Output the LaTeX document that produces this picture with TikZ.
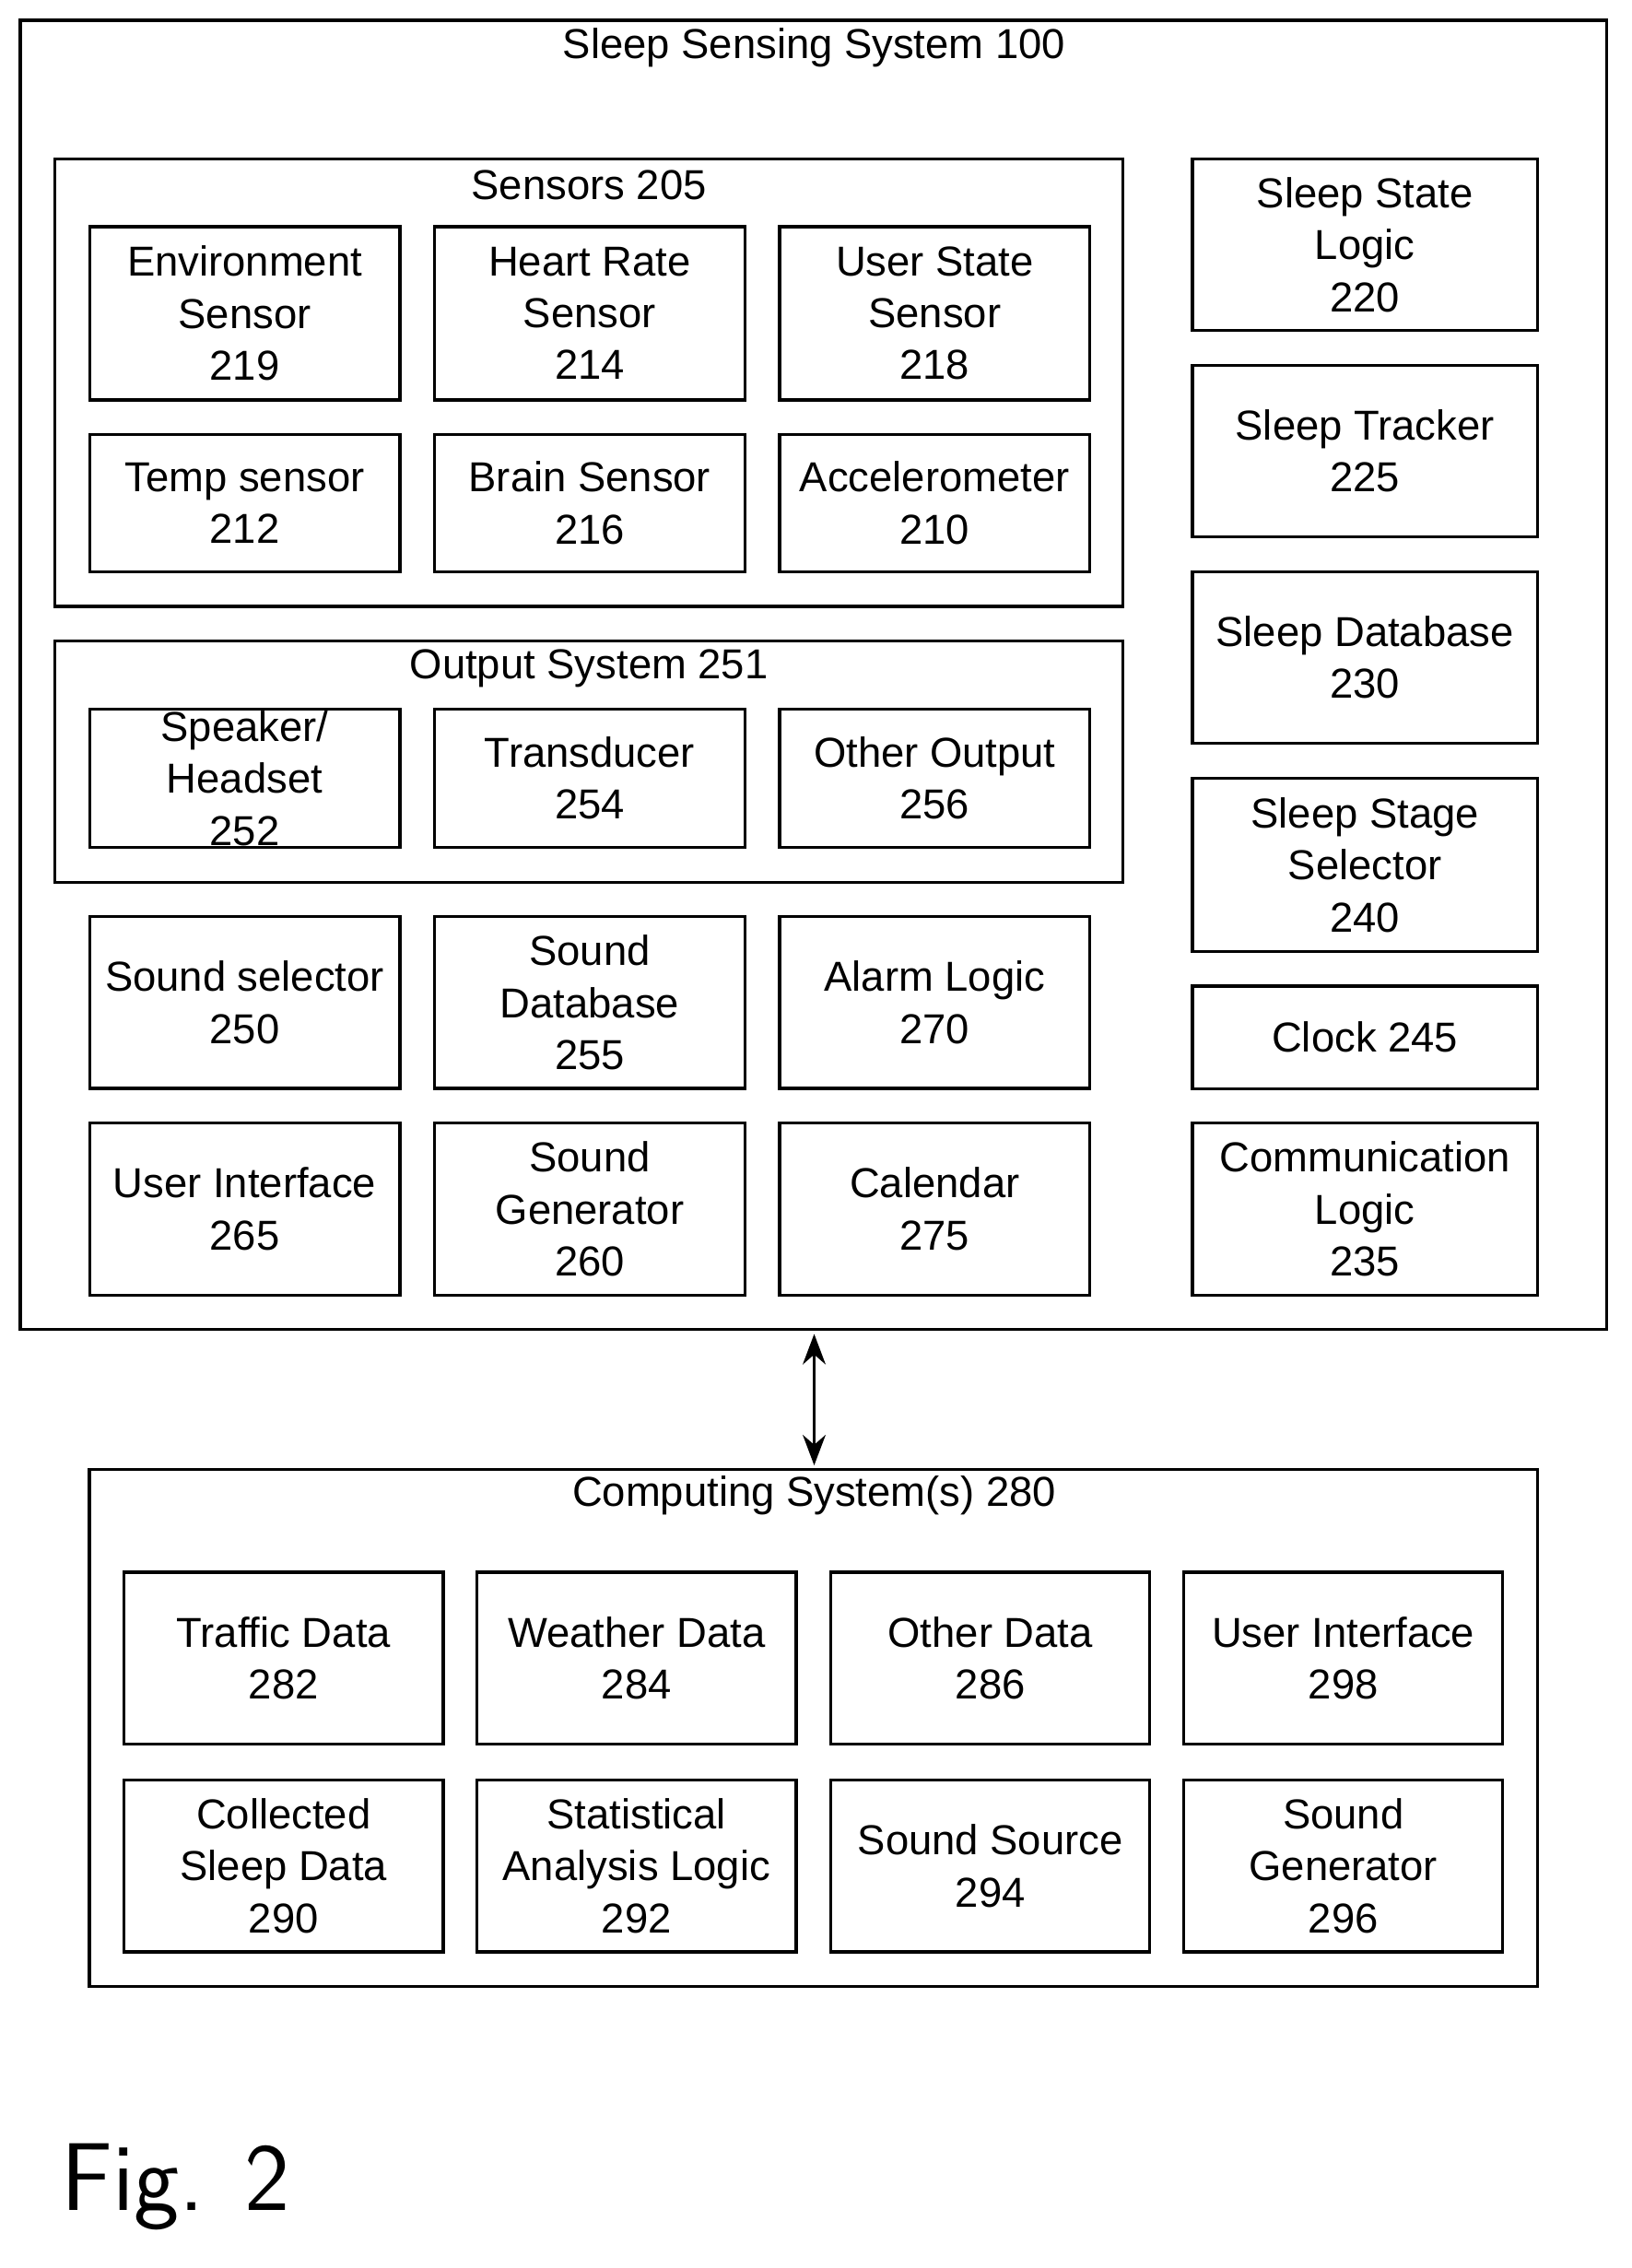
\documentclass[tikz,border=0pt]{standalone}
\usepackage{fontspec}
\setmainfont{Liberation Sans}
\usetikzlibrary{arrows.meta}
\tikzset{
  blk/.style={draw, line width=1.2pt, align=center, inner sep=0pt,
    font=\fontsize{16.5}{20.5}\selectfont},
  frame/.style={draw, line width=1.2pt},
  ttl/.style={font=\fontsize{16.5}{20}\selectfont, inner sep=0pt}
}
\begin{document}
\begin{tikzpicture}[x=0.02cm, y=-0.02cm]
      \useasboundingbox (0,0) rectangle (1130,1571);
      % sleep sensing system
      \draw[frame] (14,14) rectangle (1113,921);
      \node[ttl] (sss) at (564,33) {Sleep Sensing System 100};
      \draw[frame] (38,110) rectangle (778,420);
      \node[ttl] (sens) at (408,128) {Sensors 205};
      \node[blk, minimum width=4.3cm, minimum height=2.4cm] (s219) at (169.5,217) {Environment\\Sensor\\219};
      \node[blk, minimum width=4.3cm, minimum height=2.4cm] (s214) at (408.5,217) {Heart Rate\\Sensor\\214};
      \node[blk, minimum width=4.3cm, minimum height=2.4cm] (s218) at (647.5,217) {User State\\Sensor\\218};
      \node[blk, minimum width=4.3cm, minimum height=1.9cm] (s212) at (169.5,348.5) {Temp sensor\\212};
      \node[blk, minimum width=4.3cm, minimum height=1.9cm] (s216) at (408.5,348.5) {Brain Sensor\\216};
      \node[blk, minimum width=4.3cm, minimum height=1.9cm] (s210) at (647.5,348.5) {Accelerometer\\210};
      % output system
      \draw[frame] (38,444) rectangle (778,611);
      \node[ttl] (outs) at (408,463) {Output System 251};
      \node[blk, minimum width=4.3cm, minimum height=1.92cm] (o252) at (169.5,539) {Speaker/\\Headset\\252};
      \node[blk, minimum width=4.3cm, minimum height=1.92cm] (o254) at (408.5,539) {Transducer\\254};
      \node[blk, minimum width=4.3cm, minimum height=1.92cm] (o256) at (647.5,539) {Other Output\\256};
      % lower rows
      \node[blk, minimum width=4.3cm, minimum height=2.38cm] (b250) at (169.5,694.5) {Sound selector\\250};
      \node[blk, minimum width=4.3cm, minimum height=2.38cm] (b255) at (408.5,694.5) {Sound\\Database\\255};
      \node[blk, minimum width=4.3cm, minimum height=2.38cm] (b270) at (647.5,694.5) {Alarm Logic\\270};
      \node[blk, minimum width=4.3cm, minimum height=2.38cm] (b265) at (169.5,837.5) {User Interface\\265};
      \node[blk, minimum width=4.3cm, minimum height=2.38cm] (b260) at (408.5,837.5) {Sound\\Generator\\260};
      \node[blk, minimum width=4.3cm, minimum height=2.38cm] (b275) at (647.5,837.5) {Calendar\\275};
      % right column
      \node[blk, minimum width=4.78cm, minimum height=2.38cm] (r220) at (945.5,169.5) {Sleep State\\Logic\\220};
      \node[blk, minimum width=4.78cm, minimum height=2.38cm] (r225) at (945.5,312.5) {Sleep Tracker\\225};
      \node[blk, minimum width=4.78cm, minimum height=2.38cm] (r230) at (945.5,455.5) {Sleep Database\\230};
      \node[blk, minimum width=4.78cm, minimum height=2.4cm] (r240) at (945.5,599) {Sleep Stage\\Selector\\240};
      \node[blk, minimum width=4.78cm, minimum height=1.42cm] (r245) at (945.5,718.5) {Clock 245};
      \node[blk, minimum width=4.78cm, minimum height=2.38cm] (r235) at (945.5,837.5) {Communication\\Logic\\235};
      % computing systems
      \draw[frame] (62,1018) rectangle (1065,1376);
      \node[ttl] (comp) at (564,1036) {Computing System(s) 280};
      \coordinate (top) at (564,924);
      \coordinate (bot) at (564,1015);
      \draw[line width=1.2pt, {Stealth[length=12pt,width=9pt]}-{Stealth[length=12pt,width=9pt]}] (top) -- (bot);
      \node[blk, minimum width=4.42cm, minimum height=2.38cm] (c282) at (196.5,1148.5) {Traffic Data\\282};
      \node[blk, minimum width=4.42cm, minimum height=2.38cm] (c284) at (441,1148.5) {Weather Data\\284};
      \node[blk, minimum width=4.42cm, minimum height=2.38cm] (c286) at (686,1148.5) {Other Data\\286};
      \node[blk, minimum width=4.42cm, minimum height=2.38cm] (c298) at (930.5,1148.5) {User Interface\\298};
      \node[blk, minimum width=4.42cm, minimum height=2.38cm] (c290) at (196.5,1292.5) {Collected\\Sleep Data\\290};
      \node[blk, minimum width=4.42cm, minimum height=2.38cm] (c292) at (441,1292.5) {Statistical\\Analysis Logic\\292};
      \node[blk, minimum width=4.42cm, minimum height=2.38cm] (c294) at (686,1292.5) {Sound Source\\294};
      \node[blk, minimum width=4.42cm, minimum height=2.38cm] (c296) at (930.5,1292.5) {Sound\\Generator\\296};
      \node[anchor=west, inner sep=0pt, font=\fontsize{38}{42}\sffamily\selectfont] (fig) at (42,1515) {Fig. 2};
\end{tikzpicture}
\end{document}
